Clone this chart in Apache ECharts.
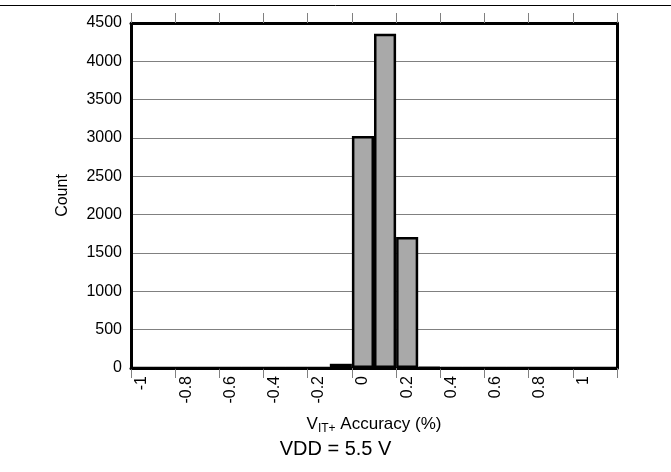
<!DOCTYPE html>
<html>
<head>
<meta charset="utf-8">
<script src="https://cdn.jsdelivr.net/npm/echarts@6/dist/echarts.min.js"></script>
<style>html,body{margin:0;padding:0;background:#fff}#c{width:671px;height:472px}</style>
</head>
<body>
<div id="c"></div>
<script>
// Bin start values (bin width 0.1) from -1 to 1.1
const binStarts = [-1,-0.9,-0.8,-0.7,-0.6,-0.5,-0.4,-0.3,-0.2,-0.1,0,0.1,0.2,0.3,0.4,0.5,0.6,0.7,0.8,0.9,1,1.1];
const counts    = [0,0,0,0,0,0,0,0,0,55,3025,4360,1710,8,0,0,0,0,0,0,0,0];
const yTicks = [0,500,1000,1500,2000,2500,3000,3500,4000,4500];
const xTitle = 'VDD = 5.5 V';

const cats = binStarts.map(String);
const font = 'Liberation Sans, Arial, sans-serif';
const chart = echarts.init(document.getElementById('c'));
chart.setOption({
  animation: false,
  backgroundColor: '#fff',
  title: {
    text: xTitle, left: 'center', top: 434,
    textStyle: {fontFamily: font, fontSize: 20, fontWeight: 'normal', color: '#000'}
  },
  grid: {left: 131, right: 54, top: 23, bottom: 104},
  graphic: [{type: 'line', shape: {x1: 0, y1: 5.5, x2: 671, y2: 5.5}, style: {stroke: '#000', lineWidth: 1}}],
  xAxis: [{
    type: 'category', data: cats, position: 'bottom', boundaryGap: true,
    axisLine: {show: true, onZero: false, lineStyle: {color: '#000', width: 3}},
    axisTick: {show: true, interval: 1, length: 10, lineStyle: {color: '#808080', width: 1}},
    axisLabel: {interval: 1, rotate: 90, margin: 8, fontFamily: font, fontSize: 16, color: '#000',
      formatter: v => String(Number(v))},
    name: '{n|V}{s|IT+}{n| Accuracy (%)}', nameLocation: 'middle', nameGap: 46,
    nameTextStyle: {rich: {n: {fontFamily: font, fontSize: 17, color: '#000'}, s: {fontFamily: font, fontSize: 12, color: '#000', verticalAlign: 'bottom', padding: [9,0,0,0]}}},
    splitLine: {show: false}
  }, {
    type: 'category', data: cats, position: 'top', boundaryGap: true,
    axisLine: {show: true, onZero: false, lineStyle: {color: '#000', width: 3}},
    axisTick: {show: true, interval: 1, length: 10, lineStyle: {color: '#808080', width: 1}},
    axisLabel: {show: false}
  }],
  yAxis: [{
    type: 'value', min: 0, max: 4500, interval: 500,
    axisLine: {show: true, onZero: false, lineStyle: {color: '#000', width: 3}},
    axisTick: {show: false},
    axisLabel: {fontFamily: font, fontSize: 16, color: '#000', margin: 9,
      formatter: v => yTicks.includes(v) ? String(v) : ''},
    splitLine: {lineStyle: {color: '#808080', width: 1}},
    name: 'Count', nameLocation: 'middle', nameGap: 60,
    nameTextStyle: {fontFamily: font, fontSize: 16, color: '#000'}
  }, {
    type: 'value', min: 0, max: 4500, interval: 500, position: 'right',
    axisLine: {show: true, onZero: false, lineStyle: {color: '#000', width: 3}},
    axisTick: {show: false}, axisLabel: {show: false}, splitLine: {show: false}
  }],
  series: [{
    type: 'bar', data: counts, barWidth: '100%', barGap: '0%',
    itemStyle: {color: '#a9a9a9', borderColor: '#000', borderWidth: 2.5}
  }]
});
</script>
</body>
</html>
